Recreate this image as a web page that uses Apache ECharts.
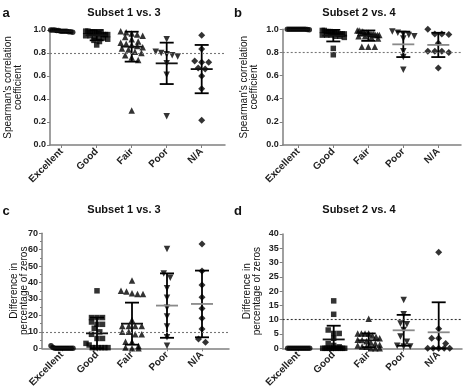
<!DOCTYPE html>
<html><head><meta charset="utf-8">
<script src="https://cdn.jsdelivr.net/npm/echarts@6/dist/echarts.min.js"></script>
<style>html,body{margin:0;padding:0;background:#fff}#c{width:464px;height:389px}</style>
</head><body><div id="c"></div>
<script>
// ---------------- DATA ----------------
const categories = ['Excellent', 'Good', 'Fair', 'Poor', 'N/A'];
const titles = ['Subset 1 vs. 3', 'Subset 2 vs. 4', 'Subset 1 vs. 3', 'Subset 2 vs. 4'];
const letters = ['a', 'b', 'c', 'd'];
const yNameCorr = "Spearman's correlation\ncoefficient";
const yNameZeros = 'Difference in\npercentage of zeros';
const yTicksCorr = [0, 0.2, 0.4, 0.6, 0.8, 1.0];
const yTicksC = [0, 10, 20, 30, 40, 50, 60, 70];
const yTicksD = [0, 5, 10, 15, 20, 25, 30, 35, 40];
const refCorr = 0.8;
const refZeros = 10;

// panel a: Spearman, subset 1 vs 3
const aPoints = [
  [1.0, 1.0, 0.995, 0.995, 0.99, 0.99, 0.99, 0.985, 0.985, 0.98, 1.0, 0.99],
  [0.99, 0.99, 0.98, 0.98, 0.98, 0.97, 0.97, 0.97, 0.96, 0.96, 0.96, 0.95, 0.95, 0.94, 0.93, 0.93, 0.92, 0.91, 0.90, 0.87],
  [0.99, 0.98, 0.97, 0.96, 0.95, 0.94, 0.92, 0.90, 0.89, 0.88, 0.87, 0.86, 0.85, 0.84, 0.83, 0.81, 0.80, 0.78, 0.76, 0.74, 0.30],
  [0.92, 0.81, 0.80, 0.79, 0.78, 0.77, 0.71, 0.61, 0.25],
  [0.955, 0.835, 0.73, 0.72, 0.72, 0.67, 0.66, 0.60, 0.49, 0.215]
];
const aMean = [0.99, 0.955, 0.855, 0.71, 0.66];
const aSD = [0.005, 0.045, 0.13, 0.18, 0.21];

// panel b: Spearman, subset 2 vs 4
const bPoints = [
  [1, 1, 1, 1, 1, 1, 1, 1, 1, 1, 0.998, 0.997],
  [0.99, 0.99, 0.98, 0.98, 0.98, 0.97, 0.97, 0.97, 0.96, 0.96, 0.96, 0.96, 0.95, 0.95, 0.95, 0.94, 0.94, 0.93, 0.835, 0.78],
  [0.99, 0.99, 0.98, 0.98, 0.97, 0.97, 0.97, 0.96, 0.96, 0.96, 0.95, 0.95, 0.95, 0.94, 0.94, 0.93, 0.92, 0.85, 0.85, 0.85],
  [0.98, 0.97, 0.96, 0.95, 0.94, 0.92, 0.81, 0.76, 0.65],
  [1.0, 0.96, 0.96, 0.955, 0.88, 0.81, 0.81, 0.81, 0.80, 0.665]
];
const bMean = [0.998, 0.945, 0.945, 0.87, 0.865];
const bSD = [0.002, 0.05, 0.045, 0.11, 0.105];

// panel c: difference in % zeros, subset 1 vs 3
const cPoints = [
  [1.6, 0.5, 0, 0, 0, 0, 0, 0, 0, 0, 0, 0],
  [35, 18.7, 18.7, 18.7, 16, 14.6, 14.6, 12.2, 10, 8.5, 6, 6, 3, 2, 0.4, 0.4, 0.4, 0.4, 0.4, 0.4],
  [41.2, 35, 34.5, 33.5, 33, 33, 17.2, 13.6, 13.6, 13.6, 13.6, 10.1, 10, 8.5, 8.5, 4, 4, 1.4, 0.5, 0, 0],
  [60.4, 45.6, 43, 36.5, 30.8, 24.7, 19.3, 13.2, 6.7, 1.5],
  [63.5, 47, 38.5, 31, 24.3, 18.3, 11.8, 5.7, 3.7]
];
const cMean = [0.2, 9.1, 15, 26, 27];
const cSD = [0.5, 9.6, 12.8, 19.6, 20.3];

// panel d: difference in % zeros, subset 2 vs 4
const dPoints = [
  [0, 0, 0, 0, 0, 0, 0, 0, 0, 0, 0, 0],
  [16.6, 11.9, 6.4, 5.2, 5.2, 3.5, 1.7, 1.0, 0.5, 0, 0, 0, 0, 0, 0, 0, 0, 0, 0, 0],
  [10.3, 5.2, 5.2, 5.2, 5.2, 4.5, 4, 3.5, 3, 2.9, 2.5, 2, 1.7, 1.2, 1, 0.6, 0.5, 0, 0, 0],
  [16.9, 11.9, 8.7, 8.4, 6.4, 4.1, 2.3, 0.9, 0.6, 0.6],
  [33.6, 6.8, 3.5, 3.5, 1.7, 0, 0, 0, 0, 0]
];
const dMean = [0, 3.1, 2.8, 6.3, 5.6];
const dSD = [0, 4.8, 2.4, 5.4, 10.5];

// ---------------- LAYOUT / STYLE ----------------
const FONT = '"Liberation Sans", Arial, sans-serif';
const STEP = 35; // px between category centres
const panels = [
  {points: aPoints, mean: aMean, sd: aSD, ticks: yTicksCorr, ref: refCorr, dec: 1, yName: yNameCorr,
   left: 50, top: 30, width: 175, height: 115, cat0: 61.7, nameX: 13, grayMean: false,
   titleX: 124, titleY: 13, letterX: 6, letterY: 13},
  {points: bPoints, mean: bMean, sd: bSD, ticks: yTicksCorr, ref: refCorr, dec: 1, yName: yNameCorr,
   left: 282.7, top: 29.3, width: 178.3, height: 115.7, cat0: 298.3, nameX: 249, grayMean: true,
   titleX: 359, titleY: 13, letterX: 238, letterY: 13},
  {points: cPoints, mean: cMean, sd: cSD, ticks: yTicksC, ref: refZeros, dec: 0, yName: yNameZeros,
   left: 42, top: 233.3, width: 187, height: 115, cat0: 62, nameX: 19, grayMean: true, minor: true,
   titleX: 124, titleY: 210, letterX: 6, letterY: 211},
  {points: dPoints, mean: dMean, sd: dSD, ticks: yTicksD, ref: refZeros, dec: 0, yName: yNameZeros,
   left: 282.7, top: 234, width: 179.3, height: 114.3, cat0: 298.7, nameX: 252, grayMean: true,
   titleX: 359, titleY: 210, letterX: 238, letterY: 211}
];
const symbols = [
  {symbol: 'circle', size: 5.5, rotate: 0},
  {symbol: 'rect', size: 5.5, rotate: 0},
  {symbol: 'triangle', size: 6.5, rotate: 0},
  {symbol: 'triangle', size: 6.5, rotate: 180},
  {symbol: 'diamond', size: 7, rotate: 0}
];
const AXIS_COLOR = '#808080';

// beeswarm-like horizontal spreading of overlapping points
function swarm(vals, pxPerUnitY, d, maxHalf) {
  const idx = vals.map((v, i) => i).sort((p, q) => vals[q] - vals[p]);
  const out = new Array(vals.length).fill(0);
  let k = 0;
  while (k < idx.length) {
    const start = vals[idx[k]];
    const row = [idx[k]]; k++;
    while (k < idx.length && (start - vals[idx[k]]) * pxPerUnitY < d * 0.8) { row.push(idx[k]); k++; }
    const n = row.length;
    const step = n > 1 ? Math.min(d, 2 * maxHalf / (n - 1)) : 0;
    row.forEach((id, j) => { out[id] = (j - (n - 1) / 2) * step / STEP; });
  }
  return out;
}

const grid = [], xAxis = [], yAxis = [], series = [], graphic = [];
panels.forEach((p, pi) => {
  const ymin = p.ticks[0], ymax = p.ticks[p.ticks.length - 1];
  const xMin = -(p.cat0 - p.left) / STEP;
  const xMax = xMin + p.width / STEP;
  grid.push({left: p.left, top: p.top, width: p.width, height: p.height, outerBoundsMode: 'none', containLabel: false});
  xAxis.push({
    type: 'value', gridIndex: pi, min: xMin, max: xMax,
    axisLine: {show: true, onZero: false, lineStyle: {color: AXIS_COLOR, width: 1.5}},
    axisTick: {show: true, customValues: [0, 1, 2, 3, 4], length: 3, lineStyle: {color: AXIS_COLOR, width: 1}},
    axisLabel: {customValues: [0, 1, 2, 3, 4], rotate: 45, margin: 5, fontSize: 10, fontWeight: 'bold',
      fontFamily: FONT, color: '#222', formatter: v => categories[Math.round(v)]},
    splitLine: {show: false}
  });
  yAxis.push({
    type: 'value', gridIndex: pi, min: ymin, max: ymax, interval: p.ticks[1] - p.ticks[0],
    axisLine: {show: true, onZero: false, lineStyle: {color: AXIS_COLOR, width: 1.5}},
    axisTick: {show: true, length: 3, lineStyle: {color: AXIS_COLOR, width: 1}},
    minorTick: {show: !!p.minor, splitNumber: 2, length: 2, lineStyle: {color: AXIS_COLOR}},
    axisLabel: {margin: 4, fontSize: 9, fontWeight: 'bold', fontFamily: FONT, color: '#222',
      formatter: v => v.toFixed(p.dec)},
    splitLine: {show: false}
  });
  const pxY = p.height / (ymax - ymin);
  p.points.forEach((vals, ci) => {
    const off = swarm(vals, pxY, symbols[ci].size, 11);
    series.push({
      type: 'scatter', xAxisIndex: pi, yAxisIndex: pi, z: 2,
      symbol: symbols[ci].symbol, symbolSize: symbols[ci].size, symbolRotate: symbols[ci].rotate,
      itemStyle: {color: '#000'}, silent: true,
      data: vals.map((v, j) => [ci + off[j], v])
    });
  });
  series.push({
    type: 'custom', xAxisIndex: pi, yAxisIndex: pi, z: 3, silent: true, clip: false,
    data: p.mean.map((m, ci) => [ci, m, p.sd[ci]]),
    renderItem: function (params, api) {
      const ci = api.value(0), m = api.value(1), s = api.value(2);
      const c = api.coord([ci, m]);
      const hi = api.coord([ci, Math.min(m + s, ymax)]);
      const lo = api.coord([ci, Math.max(m - s, ymin)]);
      const st = {stroke: '#000', lineWidth: 1.8};
      const meanCol = (p.grayMean && ci >= 3) ? '#8a8a8a' : '#111';
      return {type: 'group', children: [
        {type: 'line', shape: {x1: c[0], y1: hi[1], x2: c[0], y2: lo[1]}, style: st},
        {type: 'line', shape: {x1: c[0] - 7, y1: hi[1], x2: c[0] + 7, y2: hi[1]}, style: st},
        {type: 'line', shape: {x1: c[0] - 7, y1: lo[1], x2: c[0] + 7, y2: lo[1]}, style: st},
        {type: 'line', shape: {x1: c[0] - 11, y1: c[1], x2: c[0] + 11, y2: c[1]}, style: {stroke: meanCol, lineWidth: 1.8}}
      ]};
    },
    markLine: {
      silent: true, symbol: 'none', label: {show: false}, animation: false,
      lineStyle: {type: [2, 2], color: pi === 3 ? '#333' : '#777', width: 1.1},
      data: [{yAxis: p.ref}]
    }
  });
  graphic.push({type: 'text', x: p.titleX, y: p.titleY, style: {text: titles[pi], font: 'bold 11px ' + FONT,
    fill: '#111', textAlign: 'center', textVerticalAlign: 'middle'}});
  graphic.push({type: 'text', x: p.letterX, y: p.letterY, style: {text: letters[pi], font: 'bold 13px ' + FONT,
    fill: '#111', textAlign: 'center', textVerticalAlign: 'middle'}});
  graphic.push({type: 'text', x: p.nameX, y: p.top + p.height / 2, rotation: Math.PI / 2,
    style: {text: p.yName, font: '10px ' + FONT, lineHeight: 10, fill: '#111', textAlign: 'center', textVerticalAlign: 'middle'}});
});

const chart = echarts.init(document.getElementById('c'), null, {renderer: 'canvas'});
chart.setOption({animation: false, backgroundColor: '#fff', grid, xAxis, yAxis, series, graphic});
</script></body></html>
